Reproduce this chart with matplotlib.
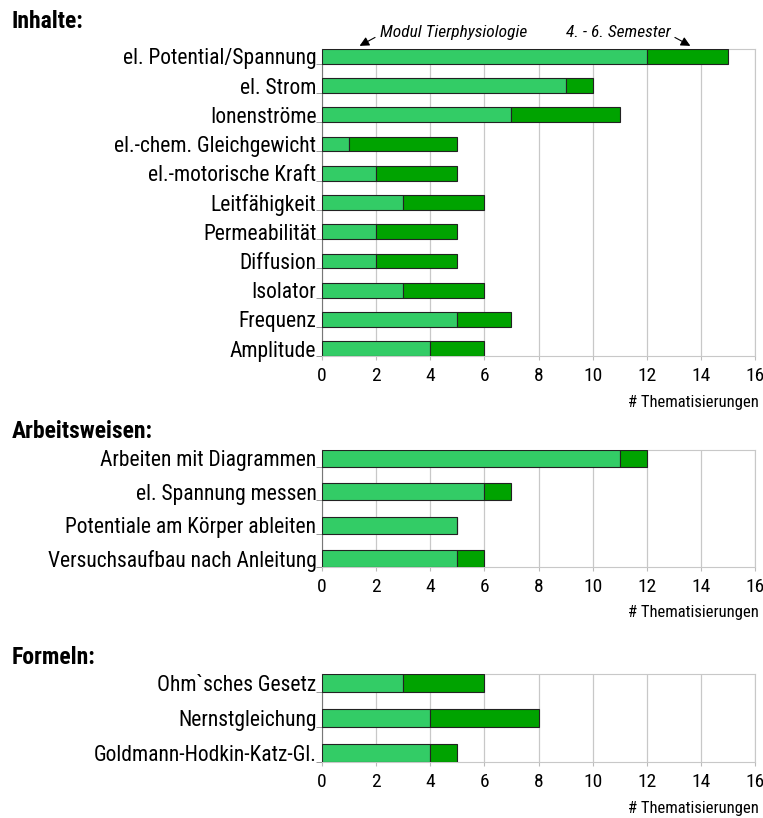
import matplotlib
matplotlib.use("Agg")
import matplotlib.pyplot as plt
import numpy as np

plt.rcParams['font.family'] = ['Roboto Condensed', 'Liberation Sans', 'DejaVu Sans']

# Inhalte
inhalte = ['el. Potential/Spannung', 'el. Strom', 'Ionenströme', 'el.-chem. Gleichgewicht',
           'el.-motorische Kraft', 'Leitfähigkeit', 'Permeabilität', 'Diffusion',
           'Isolator', 'Frequenz', 'Amplitude']
inhalte_tier = [12, 9, 7, 1, 2, 3, 2, 2, 3, 5, 4]
inhalte_sem = [3, 1, 4, 4, 3, 3, 3, 3, 3, 2, 2]

# Arbeitsweisen
arbeit = ['Arbeiten mit Diagrammen', 'el. Spannung messen',
          'Potentiale am Körper ableiten', 'Versuchsaufbau nach Anleitung']
arbeit_tier = [11, 6, 5, 5]
arbeit_sem = [1, 1, 0, 1]

# Formeln
formeln = ['Ohm`sches Gesetz', 'Nernstgleichung', 'Goldmann-Hodkin-Katz-Gl.']
formeln_tier = [3, 4, 4]
formeln_sem = [3, 4, 1]

xticks = [0, 2, 4, 6, 8, 10, 12, 14, 16]
xlabel = '# Thematisierungen'

light = '#33cc66'
dark = '#00a300'

W, H = 763, 818
fig = plt.figure(figsize=(W / 100, H / 100), dpi=100)


def panel(top_px, bottom_px, cats, a, b):
    left = 322 / W
    right = 755 / W
    ax = fig.add_axes([left, 1 - bottom_px / H, right - left, (bottom_px - top_px) / H])
    y = np.arange(len(cats))
    h = 0.5
    ax.barh(y, a, height=h, color=light, edgecolor='#222222', linewidth=0.8, zorder=3)
    ax.barh(y, b, left=a, height=h, color=dark, edgecolor='#222222', linewidth=0.8, zorder=3)
    ax.set_ylim(len(cats) - 1 + h / 2, -h / 2)
    ax.set_xlim(0, 16)
    ax.set_xticks(xticks)
    ax.set_xticklabels([str(t) for t in xticks], fontsize=14)
    ax.set_yticks(y)
    ax.set_yticklabels(cats, fontsize=15.5)
    ax.set_yticks(y + h / 2, minor=True)
    ax.tick_params(axis='y', which='major', length=0, pad=4)
    ax.tick_params(axis='y', which='minor', length=4, color='#888888')
    ax.tick_params(axis='x', length=3, color='#bbbbbb', pad=5)
    ax.grid(axis='x', color='#c8c8c8', linewidth=0.9, zorder=0)
    for s in ['top', 'right', 'bottom']:
        ax.spines[s].set_color('#c8c8c8')
    ax.spines['left'].set_color('#777777')
    ax.annotate(xlabel, xy=(1, 0), xycoords='axes fraction', xytext=(4, -46),
                textcoords='offset pixels', ha='right', va='center', fontsize=12)
    return ax


ax1 = panel(49, 356, inhalte, inhalte_tier, inhalte_sem)
ax2 = panel(450, 567, arbeit, arbeit_tier, arbeit_sem)
ax3 = panel(674, 762, formeln, formeln_tier, formeln_sem)

# annotations above first panel
arrow = dict(arrowstyle='-|>', color='black', lw=0.8, mutation_scale=14)
ax1.annotate('', xy=(1.3, 1.006), xycoords=('data', 'axes fraction'),
             xytext=(2.05, 1.042), textcoords=('data', 'axes fraction'), arrowprops=arrow)
ax1.annotate('', xy=(13.7, 1.006), xycoords=('data', 'axes fraction'),
             xytext=(12.95, 1.042), textcoords=('data', 'axes fraction'), arrowprops=arrow)
ax1.text(2.15, 1.055, 'Modul Tierphysiologie', transform=ax1.get_xaxis_transform(),
         ha='left', va='center', fontsize=12.5, style='italic')
ax1.text(12.9, 1.055, '4. - 6. Semester', transform=ax1.get_xaxis_transform(),
         ha='right', va='center', fontsize=12.5, style='italic')

# section titles
fig.text(12 / W, 1 - 22 / H, 'Inhalte:', fontsize=17, fontweight='bold', va='center')
fig.text(12 / W, 1 - 432 / H, 'Arbeitsweisen:', fontsize=17, fontweight='bold', va='center')
fig.text(12 / W, 1 - 658 / H, 'Formeln:', fontsize=17, fontweight='bold', va='center')

fig.savefig('out.png', dpi=100)
